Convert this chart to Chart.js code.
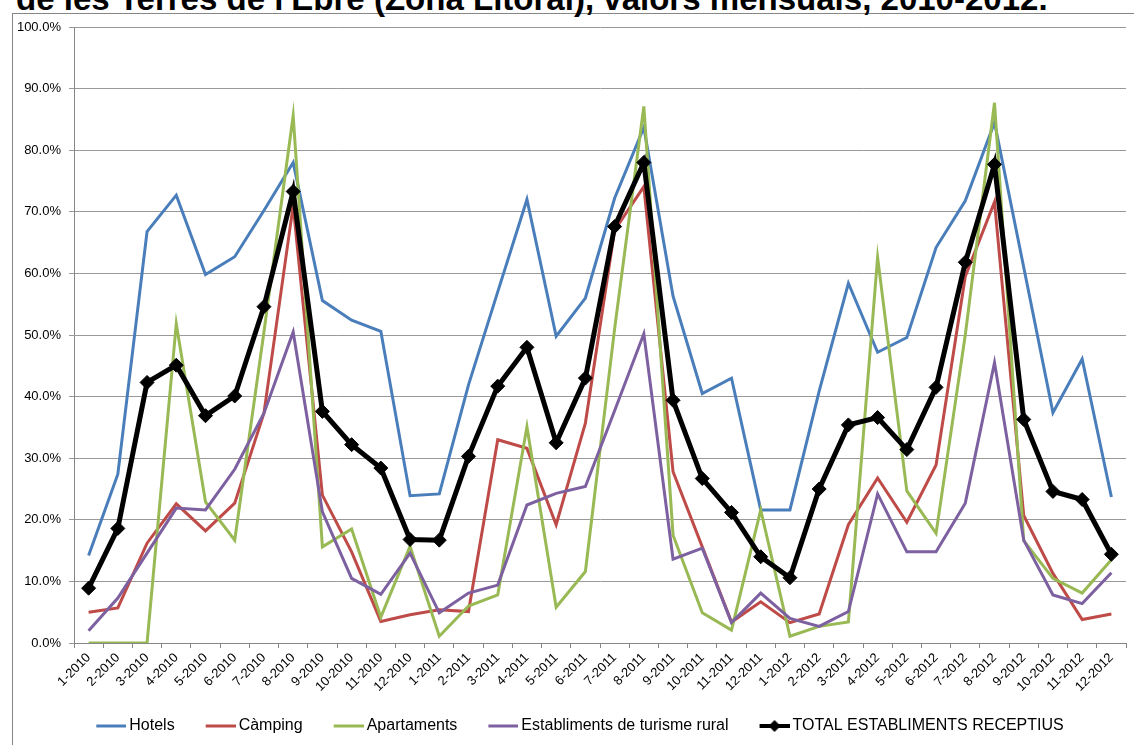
<!DOCTYPE html>
<html><head><meta charset="utf-8">
<script src="https://cdn.jsdelivr.net/npm/chart.js@4/dist/chart.umd.min.js"></script>
<style>
html,body{margin:0;padding:0;background:#fff;overflow:hidden;width:1134px;height:745px;}
#frame{position:absolute;left:12px;top:13px;width:1200px;height:800px;border-left:1px solid #868686;border-top:1px solid #868686;}
#title{position:absolute;left:16px;top:-14px;font-weight:bold;font-size:25px;font-family:"Liberation Sans",Arial,sans-serif;line-height:25px;white-space:nowrap;color:#000;}
#wrap{position:absolute;left:0;top:0;width:1134px;height:745px;}
</style></head><body>
<div id="frame"></div>
<div id="title">de les Terres de l'Ebre (Zona Litoral), valors mensuals, 2010-2012.</div>
<div id="wrap"><canvas id="c" width="1134" height="745"></canvas></div>
<script>
const categories = ["1-2010","2-2010","3-2010","4-2010","5-2010","6-2010","7-2010","8-2010","9-2010","10-2010","11-2010","12-2010",
"1-2011","2-2011","3-2011","4-2011","5-2011","6-2011","7-2011","8-2011","9-2011","10-2011","11-2011","12-2011",
"1-2012","2-2012","3-2012","4-2012","5-2012","6-2012","7-2012","8-2012","9-2012","10-2012","11-2012","12-2012"];
const seriesNames = ["Hotels","Càmping","Apartaments","Establiments de turisme rural","TOTAL ESTABLIMENTS RECEPTIUS"];
const hotels = [14.2,27.4,66.8,72.7,59.8,62.7,70.2,78.0,55.6,52.4,50.6,23.9,24.2,41.9,57.0,72.0,49.8,56.0,72.2,83.7,56.3,40.5,43.0,21.6,21.6,40.9,58.4,47.2,49.6,64.2,71.8,84.5,61.0,37.4,46.1,23.7];
const camping = [5.0,5.7,16.2,22.6,18.2,22.7,37.3,71.0,24.0,14.8,3.5,4.6,5.4,5.1,33.0,31.6,19.2,35.7,67.0,74.1,27.8,15.6,3.4,6.7,3.3,4.7,19.2,26.8,19.6,28.9,59.5,71.6,20.7,11.3,3.8,4.7];
const apartaments = [0,0,0,51.8,22.9,16.7,50.5,85.6,15.6,18.5,4.2,15.7,1.1,6.0,7.8,35.1,5.8,11.6,51.0,87.1,17.5,4.9,2.1,21.6,1.1,2.7,3.4,62.6,24.7,17.8,50.0,87.7,16.6,10.5,8.1,13.5];
const rural = [2.0,7.3,14.6,21.9,21.6,28.2,37.3,50.5,21.3,10.5,7.9,14.6,4.9,8.1,9.4,22.4,24.3,25.4,37.7,50.2,13.6,15.4,3.3,8.1,4.0,2.7,5.1,24.2,14.8,14.8,22.7,45.5,16.7,7.8,6.4,11.4];
const total = [8.9,18.6,42.3,45.1,36.9,40.1,54.6,73.3,37.6,32.2,28.4,16.8,16.7,30.3,41.7,48.0,32.5,43.0,67.6,78.0,39.4,26.7,21.2,14.0,10.6,25.0,35.4,36.6,31.4,41.5,61.8,77.7,36.3,24.6,23.3,14.4];
const colors = ["#4a7ebb","#be4b48","#98b954","#7d60a0","#000000"];

const LEG_W = 46;   // legend box width reserved for each symbol
function legendIcon(color, diamond){
  const cv = document.createElement('canvas');
  cv.width = LEG_W + 10; cv.height = 14;
  const g = cv.getContext('2d');
  const x1 = LEG_W - 20, x2 = LEG_W + 10;
  g.strokeStyle = color; g.lineWidth = diamond ? 4 : 3;
  g.beginPath(); g.moveTo(x1,7); g.lineTo(x2,7); g.stroke();
  if (diamond){
    const cx = (x1 + x2) / 2;
    g.fillStyle = color;
    g.beginPath(); g.moveTo(cx,1); g.lineTo(cx+6,7); g.lineTo(cx,13); g.lineTo(cx-6,7); g.closePath(); g.fill();
  }
  return cv;
}
const icons = colors.map((c,i)=>legendIcon(c, i===4));

(function(){
  const t = document.getElementById('title');
  const w = t.getBoundingClientRect().width;
  t.style.fontSize = (25*1032/w).toFixed(2)+'px';
})();

const allData = [hotels, camping, apartaments, rural, total];
const datasets = allData.map((d,i)=>({
  label: seriesNames[i],
  data: d,
  borderColor: colors[i],
  backgroundColor: colors[i],
  borderWidth: i===4 ? 5 : 3,
  pointRadius: i===4 ? 7 : 0,
  pointHoverRadius: i===4 ? 7 : 0,
  pointStyle: 'rectRot',
  pointBorderWidth: 1,
  pointBackgroundColor: colors[i],
  pointBorderColor: colors[i],
  tension: 0,
  fill: false,
  order: 4 - i
}));

const FONT = '"Liberation Sans", Arial, sans-serif';
new Chart(document.getElementById('c'), {
  type: 'line',
  data: { labels: categories, datasets },
  options: {
    responsive: false,
    devicePixelRatio: 1,
    animation: false,
    layout: { padding: { left: 8, right: 3, top: 27, bottom: 1 } },
    plugins: {
      title: { display: false },
      tooltip: { enabled: false },
      legend: {
        position: 'bottom',
        labels: {
          usePointStyle: true,
          pointStyleWidth: LEG_W,
          padding: 10,
          color: '#000',
          font: { family: FONT, size: 16 },
          generateLabels: (chart) => chart.data.datasets.map((ds,i)=>({
            text: ds.label, pointStyle: icons[i], fillStyle: ds.borderColor,
            strokeStyle: ds.borderColor, lineWidth: 0, hidden: false, datasetIndex: i, fontColor: '#000'
          }))
        }
      }
    },
    scales: {
      x: {
        type: 'category',
        offset: true,
        grid: { offset: true, drawOnChartArea: false, drawTicks: true, tickLength: 5, color: '#868686' },
        border: { color: '#868686', width: 1 },
        ticks: { autoSkip: false, minRotation: 45, maxRotation: 45, color: '#000', font: { family: FONT, size: 13 }, padding: 2 },
        afterFit: (s) => { s.height = 65; }
      },
      y: {
        min: 0, max: 100,
        grid: { color: '#999999', lineWidth: 1, tickLength: 5, drawTicks: true },
        border: { color: '#868686', width: 1 },
        ticks: { stepSize: 10, color: '#000', font: { family: FONT, size: 13 }, padding: 8,
          callback: (v) => Number(v).toFixed(1) + '%' },
        afterFit: (s) => { s.width = 66; }
      }
    }
  }
});
</script>
</body></html>
